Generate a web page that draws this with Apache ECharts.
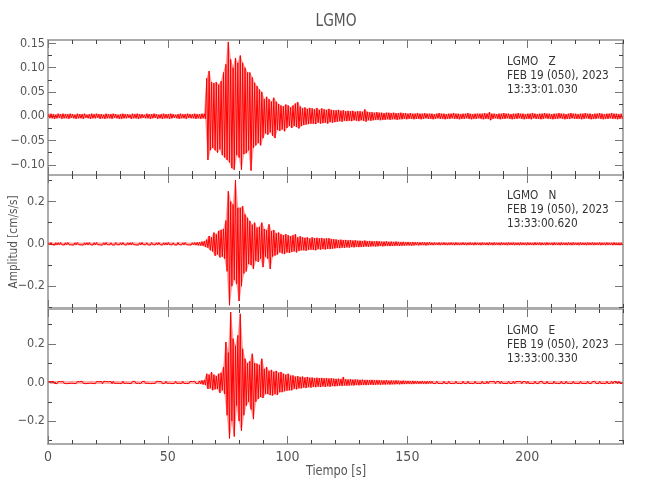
<!DOCTYPE html>
<html>
<head>
<meta charset="utf-8">
<script src="https://cdn.jsdelivr.net/npm/echarts@6/dist/echarts.min.js"></script>
<style>
html,body{margin:0;padding:0;background:#fff;}
#chart{width:650px;height:500px;}
</style>
</head>
<body>
<div id="chart"></div>
<script>
// Per-second envelope of each trace: zHi[i] = max, zLo[i] = min within second i
const zHi = [
0.004,0.005,0.004,0.003,0.005,0.004,0.005,0.004,0.004,0.005,
0.004,0.003,0.005,0.004,0.004,0.005,0.003,0.004,0.005,0.004,
0.005,0.004,0.004,0.003,0.005,0.004,0.004,0.005,0.004,0.003,
0.004,0.005,0.004,0.004,0.003,0.005,0.004,0.005,0.004,0.004,
0.003,0.005,0.004,0.004,0.005,0.004,0.003,0.004,0.005,0.004,
0.004,0.005,0.004,0.003,0.004,0.005,0.004,0.004,0.005,0.004,
0.004,0.005,0.004,0.004,0.005,0.005,0.078,0.093,0.070,0.068,
0.070,0.065,0.072,0.090,0.107,0.153,0.117,0.100,0.120,0.110,
0.125,0.110,0.100,0.090,0.090,0.080,0.069,0.062,0.055,0.050,
0.035,0.040,0.035,0.030,0.038,0.030,0.025,0.022,0.020,0.024,
0.022,0.018,0.022,0.026,0.029,0.020,0.016,0.018,0.015,0.017,
0.016,0.014,0.017,0.013,0.016,0.014,0.013,0.015,0.013,0.012,
0.012,0.013,0.011,0.012,0.010,0.011,0.010,0.011,0.009,0.010,
0.010,0.009,0.014,0.009,0.008,0.008,0.007,0.008,0.007,0.007,
0.006,0.007,0.007,0.006,0.007,0.006,0.006,0.007,0.006,0.006,
0.005,0.006,0.005,0.005,0.006,0.005,0.005,0.006,0.005,0.005,
0.005,0.004,0.005,0.006,0.005,0.005,0.004,0.005,0.005,0.006,
0.005,0.005,0.004,0.005,0.005,0.006,0.005,0.004,0.005,0.005,
0.005,0.005,0.006,0.005,0.008,0.005,0.005,0.004,0.005,0.005,
0.006,0.005,0.005,0.004,0.005,0.005,0.006,0.005,0.005,0.004,
0.005,0.005,0.006,0.005,0.004,0.005,0.005,0.006,0.005,0.005,
0.004,0.005,0.005,0.006,0.005,0.005,0.004,0.005,0.006,0.005,
0.005,0.004,0.005,0.005,0.006,0.005,0.005,0.004,0.005,0.005,
0.006,0.005,0.004,0.005,0.005,0.006,0.005,0.005,0.004,0.005
];
const zLo = [
-0.004,-0.004,-0.005,-0.004,-0.003,-0.005,-0.004,-0.004,-0.005,-0.003,
-0.004,-0.005,-0.004,-0.004,-0.005,-0.003,-0.004,-0.005,-0.004,-0.004,
-0.003,-0.005,-0.004,-0.005,-0.004,-0.004,-0.005,-0.003,-0.004,-0.005,
-0.005,-0.004,-0.004,-0.003,-0.005,-0.004,-0.004,-0.005,-0.004,-0.003,
-0.004,-0.004,-0.005,-0.004,-0.003,-0.005,-0.004,-0.005,-0.004,-0.004,
-0.005,-0.004,-0.003,-0.004,-0.005,-0.004,-0.004,-0.005,-0.003,-0.004,
-0.004,-0.005,-0.004,-0.005,-0.004,-0.005,-0.090,-0.070,-0.065,-0.070,
-0.075,-0.068,-0.080,-0.085,-0.090,-0.095,-0.107,-0.110,-0.080,-0.085,
-0.110,-0.078,-0.076,-0.070,-0.112,-0.065,-0.060,-0.055,-0.060,-0.045,
-0.035,-0.038,-0.033,-0.040,-0.045,-0.028,-0.030,-0.027,-0.031,-0.024,
-0.020,-0.024,-0.020,-0.022,-0.025,-0.020,-0.018,-0.017,-0.016,-0.015,
-0.015,-0.016,-0.013,-0.015,-0.014,-0.013,-0.015,-0.012,-0.013,-0.012,
-0.011,-0.010,-0.011,-0.009,-0.010,-0.009,-0.010,-0.008,-0.009,-0.010,
-0.008,-0.009,-0.011,-0.008,-0.009,-0.008,-0.007,-0.007,-0.008,-0.007,
-0.007,-0.006,-0.007,-0.006,-0.006,-0.007,-0.006,-0.006,-0.005,-0.006,
-0.005,-0.005,-0.006,-0.005,-0.005,-0.006,-0.005,-0.004,-0.005,-0.005,
-0.006,-0.005,-0.004,-0.005,-0.005,-0.006,-0.005,-0.005,-0.004,-0.005,
-0.005,-0.006,-0.005,-0.005,-0.004,-0.005,-0.006,-0.005,-0.005,-0.004,
-0.005,-0.006,-0.005,-0.005,-0.008,-0.005,-0.004,-0.005,-0.006,-0.005,
-0.005,-0.004,-0.005,-0.006,-0.005,-0.005,-0.004,-0.005,-0.006,-0.005,
-0.005,-0.006,-0.004,-0.005,-0.005,-0.006,-0.005,-0.004,-0.005,-0.005,
-0.006,-0.005,-0.005,-0.004,-0.005,-0.006,-0.005,-0.005,-0.004,-0.005,
-0.005,-0.005,-0.006,-0.005,-0.004,-0.005,-0.006,-0.005,-0.005,-0.004,
-0.005,-0.006,-0.005,-0.005,-0.004,-0.005,-0.005,-0.006,-0.005,-0.005
];
const nHi = [
0.005,0.006,0.004,0.005,0.005,0.006,0.004,0.005,0.006,0.005,
0.004,0.005,0.006,0.005,0.004,0.005,0.005,0.006,0.004,0.005,
0.006,0.005,0.004,0.005,0.006,0.005,0.005,0.004,0.006,0.005,
0.005,0.006,0.004,0.005,0.005,0.006,0.005,0.004,0.005,0.006,
0.005,0.005,0.004,0.006,0.005,0.005,0.006,0.004,0.005,0.005,
0.006,0.005,0.005,0.004,0.006,0.005,0.005,0.006,0.005,0.004,
0.005,0.006,0.006,0.007,0.010,0.012,0.020,0.037,0.030,0.053,
0.045,0.061,0.066,0.070,0.110,0.248,0.200,0.186,0.300,0.170,
0.170,0.178,0.139,0.123,0.108,0.090,0.100,0.076,0.080,0.100,
0.070,0.065,0.092,0.060,0.065,0.050,0.053,0.045,0.040,0.045,
0.040,0.035,0.040,0.045,0.030,0.035,0.030,0.028,0.030,0.025,
0.030,0.026,0.028,0.025,0.027,0.024,0.025,0.026,0.022,0.021,
0.020,0.018,0.019,0.017,0.018,0.016,0.017,0.015,0.016,0.014,
0.014,0.013,0.015,0.012,0.013,0.012,0.011,0.012,0.011,0.010,
0.010,0.011,0.009,0.010,0.009,0.010,0.009,0.008,0.009,0.008,
0.008,0.007,0.008,0.007,0.007,0.006,0.007,0.006,0.006,0.007,
0.005,0.006,0.005,0.006,0.005,0.006,0.005,0.005,0.006,0.005,
0.006,0.005,0.005,0.006,0.005,0.005,0.006,0.005,0.006,0.005,
0.005,0.006,0.005,0.005,0.006,0.005,0.006,0.005,0.005,0.006,
0.005,0.005,0.006,0.005,0.006,0.005,0.005,0.006,0.005,0.005,
0.006,0.005,0.005,0.006,0.005,0.006,0.005,0.005,0.006,0.005,
0.005,0.006,0.005,0.005,0.006,0.005,0.005,0.006,0.005,0.006,
0.005,0.005,0.006,0.005,0.005,0.006,0.005,0.006,0.005,0.005,
0.006,0.005,0.005,0.006,0.005,0.005,0.006,0.005,0.005,0.006
];
const nLo = [
-0.005,-0.004,-0.006,-0.005,-0.005,-0.004,-0.006,-0.005,-0.004,-0.005,
-0.006,-0.005,-0.004,-0.005,-0.006,-0.005,-0.005,-0.004,-0.006,-0.005,
-0.004,-0.005,-0.006,-0.005,-0.004,-0.005,-0.005,-0.006,-0.004,-0.005,
-0.005,-0.004,-0.006,-0.005,-0.005,-0.004,-0.005,-0.006,-0.005,-0.004,
-0.005,-0.005,-0.006,-0.004,-0.005,-0.005,-0.004,-0.006,-0.005,-0.005,
-0.004,-0.005,-0.005,-0.006,-0.004,-0.005,-0.005,-0.004,-0.005,-0.006,
-0.005,-0.006,-0.007,-0.008,-0.009,-0.015,-0.018,-0.030,-0.036,-0.056,
-0.050,-0.064,-0.060,-0.070,-0.130,-0.290,-0.200,-0.170,-0.190,-0.270,
-0.200,-0.140,-0.130,-0.095,-0.100,-0.119,-0.080,-0.085,-0.070,-0.110,
-0.060,-0.070,-0.119,-0.060,-0.055,-0.050,-0.040,-0.045,-0.048,-0.040,
-0.042,-0.038,-0.035,-0.040,-0.033,-0.030,-0.030,-0.032,-0.028,-0.027,
-0.028,-0.030,-0.025,-0.027,-0.024,-0.026,-0.023,-0.024,-0.022,-0.021,
-0.019,-0.020,-0.017,-0.018,-0.016,-0.017,-0.015,-0.016,-0.014,-0.015,
-0.014,-0.013,-0.012,-0.013,-0.012,-0.011,-0.012,-0.011,-0.010,-0.011,
-0.010,-0.009,-0.010,-0.009,-0.009,-0.008,-0.009,-0.008,-0.008,-0.007,
-0.007,-0.008,-0.007,-0.006,-0.007,-0.006,-0.006,-0.007,-0.006,-0.005,
-0.006,-0.005,-0.005,-0.006,-0.005,-0.005,-0.006,-0.005,-0.005,-0.006,
-0.005,-0.006,-0.005,-0.005,-0.006,-0.005,-0.005,-0.006,-0.005,-0.005,
-0.006,-0.005,-0.005,-0.006,-0.005,-0.006,-0.005,-0.005,-0.006,-0.005,
-0.005,-0.006,-0.005,-0.005,-0.006,-0.005,-0.006,-0.005,-0.005,-0.006,
-0.005,-0.005,-0.006,-0.005,-0.005,-0.006,-0.005,-0.006,-0.005,-0.005,
-0.006,-0.005,-0.005,-0.006,-0.005,-0.005,-0.006,-0.005,-0.006,-0.005,
-0.005,-0.006,-0.005,-0.005,-0.006,-0.005,-0.005,-0.006,-0.005,-0.005,
-0.006,-0.005,-0.006,-0.005,-0.005,-0.006,-0.005,-0.005,-0.006,-0.005
];
const eHi = [
0.005,0.004,0.006,0.005,0.005,0.004,0.006,0.005,0.004,0.005,
0.006,0.005,0.005,0.004,0.006,0.005,0.004,0.005,0.006,0.005,
0.005,0.004,0.005,0.006,0.005,0.004,0.005,0.006,0.005,0.005,
0.004,0.006,0.005,0.005,0.004,0.005,0.006,0.005,0.004,0.005,
0.006,0.005,0.005,0.004,0.005,0.006,0.005,0.005,0.004,0.006,
0.005,0.005,0.004,0.006,0.005,0.005,0.006,0.004,0.005,0.005,
0.005,0.006,0.005,0.008,0.010,0.012,0.045,0.040,0.054,0.040,
0.033,0.045,0.050,0.080,0.210,0.155,0.365,0.227,0.190,0.244,
0.356,0.175,0.123,0.100,0.110,0.149,0.100,0.097,0.090,0.123,
0.070,0.080,0.060,0.065,0.055,0.060,0.050,0.054,0.045,0.040,
0.045,0.035,0.036,0.030,0.032,0.028,0.030,0.025,0.028,0.024,
0.025,0.022,0.024,0.022,0.023,0.021,0.022,0.020,0.021,0.019,
0.018,0.019,0.017,0.028,0.016,0.015,0.016,0.014,0.015,0.014,
0.013,0.014,0.012,0.013,0.012,0.013,0.011,0.012,0.011,0.010,
0.010,0.011,0.009,0.010,0.009,0.010,0.009,0.008,0.009,0.008,
0.008,0.007,0.008,0.007,0.007,0.006,0.007,0.006,0.006,0.007,
0.006,0.005,0.006,0.005,0.005,0.006,0.005,0.006,0.005,0.005,
0.006,0.005,0.005,0.006,0.005,0.006,0.005,0.005,0.006,0.005,
0.005,0.006,0.005,0.006,0.005,0.005,0.006,0.005,0.005,0.006,
0.005,0.005,0.006,0.005,0.006,0.005,0.005,0.006,0.005,0.005,
0.006,0.005,0.005,0.006,0.005,0.005,0.006,0.005,0.006,0.005,
0.005,0.006,0.005,0.005,0.006,0.005,0.006,0.005,0.005,0.006,
0.005,0.005,0.006,0.005,0.005,0.006,0.005,0.005,0.006,0.005,
0.006,0.005,0.005,0.006,0.005,0.006,0.005,0.005,0.006,0.005
];
const eLo = [
-0.004,-0.005,-0.005,-0.006,-0.004,-0.005,-0.005,-0.006,-0.005,-0.004,
-0.005,-0.006,-0.004,-0.005,-0.005,-0.006,-0.005,-0.004,-0.005,-0.006,
-0.005,-0.005,-0.006,-0.004,-0.005,-0.005,-0.006,-0.005,-0.004,-0.005,
-0.006,-0.005,-0.004,-0.005,-0.006,-0.005,-0.005,-0.004,-0.006,-0.005,
-0.005,-0.004,-0.006,-0.005,-0.005,-0.004,-0.005,-0.006,-0.005,-0.005,
-0.004,-0.006,-0.005,-0.005,-0.004,-0.006,-0.005,-0.005,-0.006,-0.004,
-0.005,-0.005,-0.006,-0.007,-0.010,-0.012,-0.033,-0.030,-0.040,-0.035,
-0.033,-0.054,-0.040,-0.060,-0.170,-0.290,-0.200,-0.280,-0.120,-0.200,
-0.250,-0.170,-0.120,-0.100,-0.140,-0.190,-0.100,-0.085,-0.075,-0.080,
-0.060,-0.060,-0.065,-0.067,-0.060,-0.065,-0.050,-0.050,-0.045,-0.042,
-0.040,-0.040,-0.032,-0.035,-0.030,-0.030,-0.026,-0.028,-0.024,-0.026,
-0.022,-0.024,-0.021,-0.023,-0.020,-0.022,-0.019,-0.021,-0.018,-0.019,
-0.018,-0.016,-0.017,-0.015,-0.016,-0.015,-0.014,-0.015,-0.013,-0.014,
-0.013,-0.012,-0.013,-0.012,-0.011,-0.012,-0.011,-0.010,-0.011,-0.010,
-0.010,-0.009,-0.010,-0.009,-0.009,-0.008,-0.009,-0.008,-0.008,-0.007,
-0.007,-0.008,-0.007,-0.006,-0.007,-0.006,-0.006,-0.007,-0.006,-0.005,
-0.005,-0.006,-0.005,-0.005,-0.006,-0.005,-0.006,-0.005,-0.005,-0.006,
-0.005,-0.005,-0.006,-0.005,-0.006,-0.005,-0.005,-0.006,-0.005,-0.005,
-0.006,-0.005,-0.005,-0.006,-0.005,-0.005,-0.006,-0.005,-0.006,-0.005,
-0.005,-0.006,-0.005,-0.005,-0.006,-0.005,-0.005,-0.006,-0.005,-0.006,
-0.005,-0.005,-0.006,-0.005,-0.006,-0.005,-0.005,-0.006,-0.005,-0.005,
-0.006,-0.005,-0.005,-0.006,-0.005,-0.006,-0.005,-0.005,-0.006,-0.005,
-0.005,-0.006,-0.005,-0.005,-0.006,-0.005,-0.006,-0.005,-0.005,-0.006,
-0.005,-0.005,-0.006,-0.005,-0.005,-0.006,-0.005,-0.006,-0.005,-0.005
];

// Axis ticks
const xMajorTicks = [0, 50, 100, 150, 200];
const xMinorTicks = [10,20,30,40,60,70,80,90,110,120,130,140,160,170,180,190,210,220,230,240];
const zMajorTicks = [-0.10, -0.05, 0.00, 0.05, 0.10, 0.15];
const zMinorTicks = [-0.075, -0.025, 0.025, 0.075, 0.125];
const nMajorTicks = [-0.2, 0.0, 0.2];
const nMinorTicks = [-0.3, -0.1, 0.1, 0.3];
const eMajorTicks = [-0.2, 0.0, 0.2];
const eMinorTicks = [-0.3, -0.1, 0.1, 0.3];
const zRange = [-0.121, 0.157];
const nRange = [-0.303, 0.325];
const eRange = [-0.319, 0.381];
const xRange = [0, 240];

const panelNames = ['LGMO   Z', 'LGMO   N', 'LGMO   E'];
const panelDate = 'FEB 19 (050), 2023';
const panelTimes = ['13:33:01.030', '13:33:00.620', '13:33:00.330'];
const titleText = 'LGMO';
const xTitle = 'Tiempo [s]';
const yTitle = 'Amplitud [cm/s/s]';

const FONT = "'Liberation Sans Narrow','DejaVu Sans Condensed','Liberation Sans',sans-serif";
const TRACE = '#ff0000';
const TRACE_FILL = 'rgba(255,0,0,0.42)';

const panels = [
  {hi: zHi, lo: zLo, range: zRange, major: zMajorTicks, minor: zMinorTicks, dec: 2, top: 40, height: 135},
  {hi: nHi, lo: nLo, range: nRange, major: nMajorTicks, minor: nMinorTicks, dec: 1, top: 175, height: 133},
  {hi: eHi, lo: eLo, range: eRange, major: eMajorTicks, minor: eMinorTicks, dec: 1, top: 309, height: 135}
];

const grid = [], xAxis = [], yAxis = [], series = [], graphic = [];
const fmt = (dec) => (v) => {
  const s = Math.abs(v).toFixed(dec);
  return (v < -1e-9 ? '\u2212' : '') + s;
};

panels.forEach((p, g) => {
  grid.push({left: 48, width: 575, top: p.top, height: p.height, show: true,
    borderColor: '#ababab', borderWidth: 2, backgroundColor: 'transparent', containLabel: false});
  const baseX = xAxis.length;
  [['bottom', true], ['bottom', false], ['top', true], ['top', false]].forEach(([pos, major]) => {
    xAxis.push({
      type: 'value', gridIndex: g, position: pos, min: xRange[0], max: xRange[1],
      axisLine: {show: false, onZero: false},
      splitLine: {show: false},
      axisTick: {show: true, inside: true, length: major ? 8 : 4,
        customValues: major ? xMajorTicks : xMinorTicks,
        lineStyle: {color: major ? '#777' : '#444', width: 1}},
      axisLabel: {show: major && pos === 'bottom' && g === 2, customValues: xMajorTicks,
        color: '#555', fontSize: 14, fontFamily: FONT, margin: 6,
        formatter: (v) => String(Math.round(v))}
    });
  });
  const baseY = yAxis.length;
  [['left', true], ['left', false], ['right', true], ['right', false]].forEach(([pos, major]) => {
    yAxis.push({
      type: 'value', gridIndex: g, position: pos, min: p.range[0], max: p.range[1],
      axisLine: {show: false, onZero: false},
      splitLine: {show: false},
      axisTick: {show: true, inside: true, length: major ? 8 : 4,
        customValues: major ? p.major : p.minor,
        lineStyle: {color: major ? '#777' : '#444', width: 1}},
      axisLabel: {show: major && pos === 'left', customValues: p.major,
        color: '#555', fontSize: 12.5, fontFamily: FONT, margin: 3,
        formatter: fmt(p.dec)}
    });
  });
  const zig = [], upper = [], lower = [];
  for (let i = 0; i < p.hi.length; i++) {
    zig.push([i + 0.25, p.hi[i]]);
    zig.push([i + 0.75, p.lo[i]]);
    upper.push([i + 0.25, p.hi[i]]);
    lower.push([i + 0.75, p.lo[i]]);
  }
  // light envelope fill (upper part and lower part, each filled to zero)
  [upper, lower].forEach((d) => {
    series.push({
      type: 'line', xAxisIndex: baseX, yAxisIndex: baseY, data: d,
      showSymbol: false, symbol: 'none', sampling: null, clip: true,
      lineStyle: {color: TRACE_FILL, width: 0.6},
      areaStyle: {color: TRACE_FILL, origin: 0}, silent: true, z: 2
    });
  });
  series.push({
    type: 'line', xAxisIndex: baseX, yAxisIndex: baseY, data: zig,
    showSymbol: false, symbol: 'none', sampling: null, clip: true,
    lineStyle: {color: TRACE, width: 1}, silent: true, z: 3
  });
  const ty = [62, 196, 331][g];
  [panelNames[g], panelDate, panelTimes[g]].forEach((t, k) => {
    graphic.push({type: 'text', x: 507, y: ty + k * 14, scaleX: 0.9, silent: true,
      style: {text: t, fill: '#333', font: '13px ' + FONT, align: 'left', verticalAlign: 'middle'}});
  });
});

graphic.push({type: 'text', x: 336, y: 22, scaleX: 0.9, silent: true,
  style: {text: titleText, fill: '#555', font: '17px ' + FONT, align: 'center', verticalAlign: 'middle'}});
graphic.push({type: 'text', x: 336, y: 471, scaleX: 0.9, silent: true,
  style: {text: xTitle, fill: '#555', font: '14px ' + FONT, align: 'center', verticalAlign: 'middle'}});
graphic.push({type: 'text', x: 14, y: 242, rotation: Math.PI / 2, scaleX: 0.9, silent: true,
  style: {text: yTitle, fill: '#555', font: '13px ' + FONT, align: 'center', verticalAlign: 'middle'}});

const chart = echarts.init(document.getElementById('chart'), null, {renderer: 'canvas'});
chart.setOption({
  animation: false,
  backgroundColor: '#fff',
  grid: grid, xAxis: xAxis, yAxis: yAxis, series: series, graphic: graphic
});
</script>
</body>
</html>
